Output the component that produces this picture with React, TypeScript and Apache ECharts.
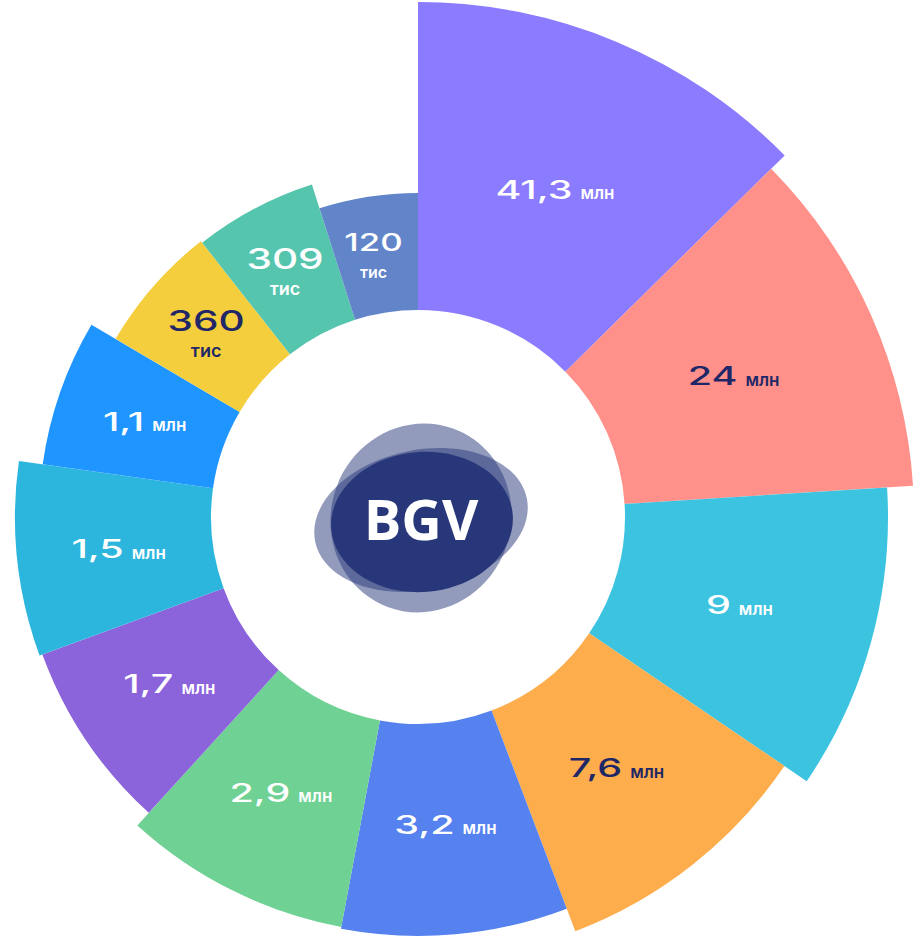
import React, { useEffect, useRef } from "react";
import * as echarts from "echarts";

const numbers = ["41,3", "24", "9", "7,6", "3,2", "2,9", "1,7", "1,5", "1,1", "360", "309", "120"];
const units = ["млн", "млн", "млн", "млн", "млн", "млн", "млн", "млн", "млн", "тис", "тис", "тис"];
// angular share (degrees) of each sector, clockwise from 12 o'clock
const sweeps = [45.4, 41.0, 37.8, 35.0, 31.4, 31.7, 27.6, 28.1, 22.5, 21.3, 20.5, 17.7];
// outer radius value of each sector (radius-axis units)
const outerValues = [515, 496, 470, 443, 419, 417, 400, 403, 379, 351, 349, 324];
const INNER = 207;

const colors = [
  "#8A7BFF", "#FF918A", "#3CC3E0", "#FDAD4C", "#5682F0", "#6FD194",
  "#8B63DB", "#2DB6DD", "#1E95FF", "#F5CE3D", "#55C5AE", "#6285CA",
];
const labelColors = [
  "#FFFFFF", "#1F2767", "#FFFFFF", "#1F2767", "#FFFFFF", "#FFFFFF",
  "#FFFFFF", "#FFFFFF", "#FFFFFF", "#1F2767", "#FFFFFF", "#FFFFFF",
];

let measureCtx: CanvasRenderingContext2D | null = null;
function textWidth(text: string, font: string): number {
  if (!measureCtx) measureCtx = document.createElement("canvas").getContext("2d");
  if (!measureCtx) return text.length * 10;
  measureCtx.font = font;
  return measureCtx.measureText(text).width;
}

const NUM_FAMILY = "Inter";
const NUM_WEIGHT = 500;
const UNIT_FAMILY = "Inter";
const UNIT_WEIGHT = 600;

export default function App() {
  const ref = useRef<HTMLDivElement>(null);

  useEffect(() => {
    if (!ref.current) return;
    const chart = echarts.init(ref.current, null, { renderer: "svg" });

    let acc = 0;
    const data = sweeps.map((s, i) => {
      const start = acc;
      acc += s;
      return [start, acc, outerValues[i], i];
    });

    const renderItem = (params: any, api: any) => {
      const a0 = api.value(0);
      const a1 = api.value(1);
      const rOut = api.value(2);
      const i = api.value(3);
      const c = api.coord([0, 0]);
      const cx = c[0];
      const cy = c[1];
      const pIn = api.coord([INNER, a0]);
      const pOut = api.coord([rOut, a1]);
      const r0 = Math.hypot(pIn[0] - cx, pIn[1] - cy);
      const r = Math.hypot(pOut[0] - cx, pOut[1] - cy);
      const sa = Math.atan2(pIn[1] - cy, pIn[0] - cx);
      let ea = Math.atan2(pOut[1] - cy, pOut[0] - cx);
      while (ea <= sa) ea += Math.PI * 2;

      const lp = api.coord([INNER + (rOut - INNER) * 0.48, (a0 + a1) / 2]);
      const fill = labelColors[i];
      const num = numbers[i];
      const unit = units[i];
      const children: any[] = [
        {
          type: "sector",
          shape: { cx, cy, r0, r, startAngle: sa, endAngle: ea, clockwise: true },
          style: { fill: colors[i] },
        },
      ];

      if (unit === "тис") {
        const small = a1 - a0 < 19;
        const nSize = small ? 24 : 28;
        const scale = small ? 1.45 : 1.45;
        children.push({
          type: "text",
          x: lp[0] - 4,
          y: lp[1] - 15,
          scaleX: scale,
          style: {
            text: num, fill, fontFamily: NUM_FAMILY, fontSize: nSize, fontWeight: NUM_WEIGHT,
            align: "center", verticalAlign: "middle",
          },
        });
        children.push({
          type: "text",
          x: lp[0] - 4,
          y: lp[1] + 15,
          style: {
            text: unit, fill, fontFamily: UNIT_FAMILY, fontSize: small ? 16 : 18, fontWeight: UNIT_WEIGHT,
            align: "center", verticalAlign: "middle",
          },
        });
      } else {
        const nSize = 25;
        const scale = 1.58;
        const uSize = 17;
        const nW = textWidth(num, `${NUM_WEIGHT} ${nSize}px ${NUM_FAMILY}`) * scale;
        const uW = textWidth(unit, `${UNIT_WEIGHT} ${uSize}px ${UNIT_FAMILY}`);
        const gap = 8;
        const total = nW + gap + uW;
        const left = lp[0] - total / 2;
        children.push({
          type: "text",
          x: left + nW / 2,
          y: lp[1],
          scaleX: scale,
          style: {
            text: num, fill, fontFamily: NUM_FAMILY, fontSize: nSize, fontWeight: NUM_WEIGHT,
            align: "center", verticalAlign: "middle",
          },
        });
        children.push({
          type: "text",
          x: left + nW + gap + uW / 2,
          y: lp[1] + 0.35 * (nSize - uSize) + 1,
          style: {
            text: unit, fill, fontFamily: UNIT_FAMILY, fontSize: uSize, fontWeight: UNIT_WEIGHT,
            align: "center", verticalAlign: "middle",
          },
        });
      }
      return { type: "group", children };
    };

    const navy = "#283779";
    chart.setOption({
      animation: false,
      backgroundColor: "#FFFFFF",
      polar: { center: [418, 517], radius: [0, 520] },
      angleAxis: {
        type: "value", min: 0, max: 360, startAngle: 90, clockwise: true, show: false,
      },
      radiusAxis: { type: "value", min: 0, max: 520, show: false },
      series: [
        {
          type: "custom",
          coordinateSystem: "polar",
          renderItem,
          data,
          silent: true,
        },
      ],
      graphic: [
        {
          type: "ellipse",
          shape: { cx: 0, cy: 0, rx: 108, ry: 70 },
          x: 421, y: 520, rotation: 0.2,
          style: { fill: navy, opacity: 0.5 },
          silent: true,
        },
        {
          type: "ellipse",
          shape: { cx: 0, cy: 0, rx: 90, ry: 95 },
          x: 421, y: 518, rotation: -0.35,
          style: { fill: navy, opacity: 0.5 },
          silent: true,
        },
        {
          type: "ellipse",
          shape: { cx: 0, cy: 0, rx: 91, ry: 70 },
          x: 422, y: 522, rotation: 0.08,
          style: { fill: navy, opacity: 1 },
          silent: true,
        },
        {
          type: "text",
          x: 421, y: 518,
          style: {
            text: "BGV", fill: "#FFFFFF", fontFamily: '"Open Sans"', fontWeight: "bold",
            fontSize: 56, align: "center", verticalAlign: "middle",
          },
          silent: true,
        },
      ],
    });

    return () => chart.dispose();
  }, []);

  return (
    <div
      ref={ref}
      style={{ position: "absolute", left: 0, top: 0, width: 920, height: 950 }}
    />
  );
}
